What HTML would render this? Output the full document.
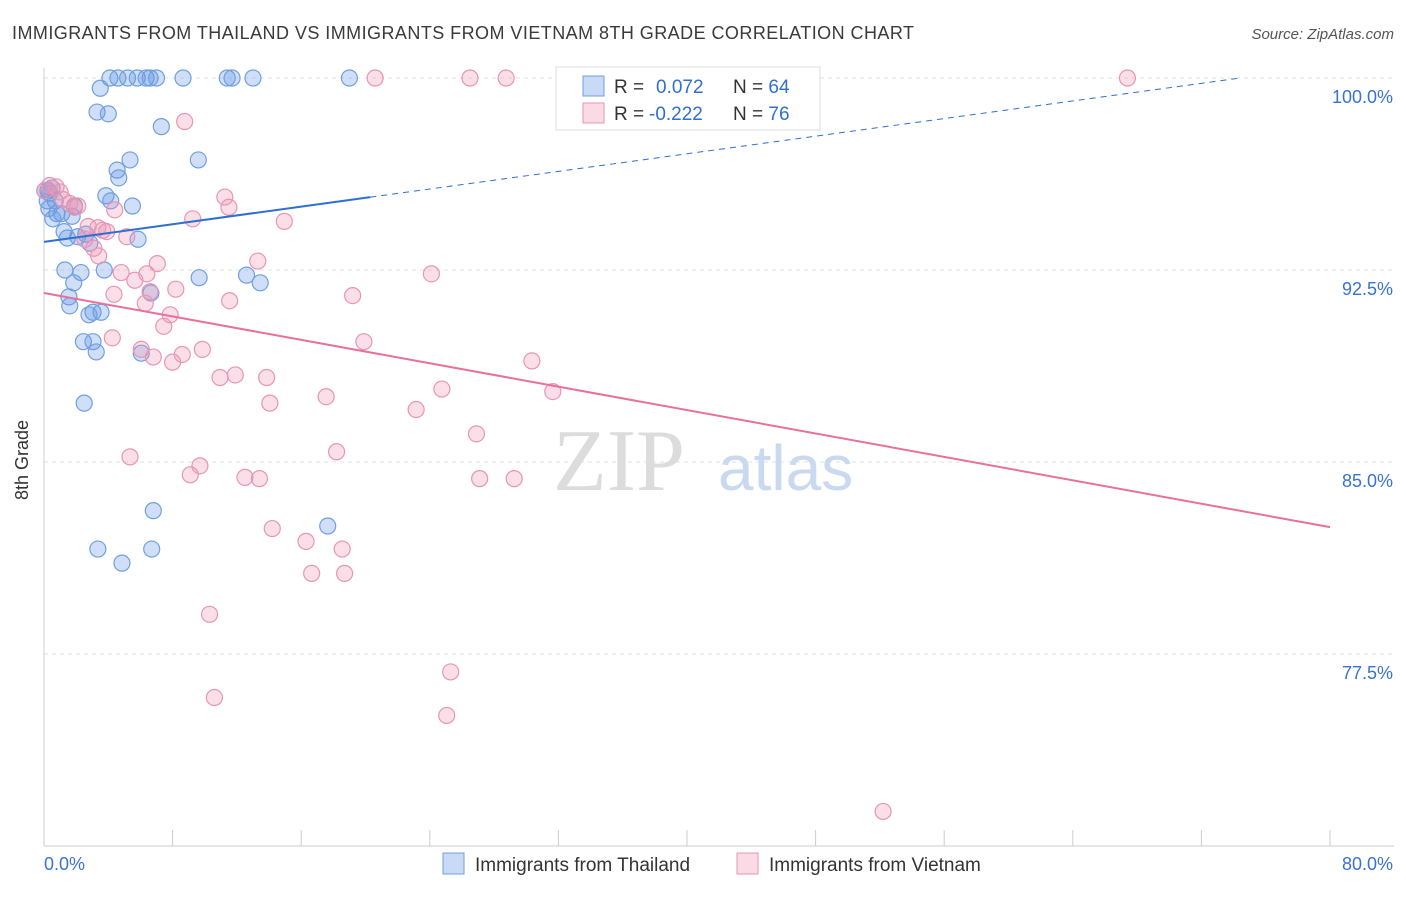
<!DOCTYPE html>
<html><head><meta charset="utf-8"><style>
body{margin:0;background:#fff;font-family:"Liberation Sans",sans-serif;}
</style></head><body>
<svg id="chart" width="1406" height="892" font-family="Liberation Sans, sans-serif">
<text x="12" y="39" font-size="18" fill="#3a3a3a" textLength="902">IMMIGRANTS FROM THAILAND VS IMMIGRANTS FROM VIETNAM 8TH GRADE CORRELATION CHART</text>
<text x="1394" y="39" font-size="15" fill="#555" text-anchor="end" font-style="italic">Source: ZipAtlas.com</text>
<g id="grid"></g>
<g><text x="553" y="490" font-size="88" fill="#dcdcdc" style="font-family:'Liberation Serif',serif">ZIP</text><text x="718" y="490" font-size="64" fill="#c9daf0">atlas</text></g>
<g id="axes"></g>
<g id="pts"></g>
<g id="trend"></g>
<text x="28" y="460" font-size="18" fill="#333" transform="rotate(-90 28 460)" text-anchor="middle">8th Grade</text>
<g>
<rect x="556" y="67" width="264" height="63" fill="#fff" stroke="#ddd"/>
<rect x="583" y="76" width="21" height="20" fill="rgba(100,150,230,0.35)" stroke="#6fa0e0"/>
<rect x="583" y="103" width="21" height="20" fill="rgba(240,150,180,0.35)" stroke="#e895b5"/>
<text x="614" y="93" font-size="19" fill="#333">R = <tspan x="656" fill="#2f6fd0">0.072</tspan><tspan x="733">N = </tspan><tspan fill="#2f6fd0">64</tspan></text>
<text x="614" y="120" font-size="19" fill="#333">R = <tspan x="649" fill="#2f6fd0">-0.222</tspan><tspan x="733">N = </tspan><tspan fill="#2f6fd0">76</tspan></text>
</g>
<g>
<rect x="443" y="853" width="21" height="21" fill="rgba(100,150,230,0.35)" stroke="#6fa0e0"/>
<text x="475" y="871" font-size="19" fill="#333">Immigrants from Thailand</text>
<rect x="737" y="853" width="21" height="21" fill="rgba(240,150,180,0.35)" stroke="#e895b5"/>
<text x="769" y="871" font-size="19" fill="#333">Immigrants from Vietnam</text>
</g>
</svg>
<script>
const thX=[4.1,4.6,5.2,5.8,6.35,6.6,7.0,8.65,11.4,11.7,13.0,19.0,3.5,3.3,4.0,7.3,5.35,9.6,4.55,4.65,0.25,0.5,3.85,4.15,0.7,1.9,5.5,0.8,1.1,1.75,0.55,1.25,2.6,2.1,1.45,5.85,2.85,1.3,3.75,2.3,9.65,12.6,13.45,1.85,6.65,1.55,1.6,3.05,3.55,2.8,2.45,3.05,3.25,6.05,2.5,6.8,17.65,3.35,6.7,4.85,0.05,0.35,0.2,0.3];
const thY=[100,100,100,100,100,100,100,100,100,100,100,100,99.6,98.67,98.6,98.1,96.8,96.8,96.4,96.1,95.6,95.7,95.4,95.2,95.2,95.0,95.0,94.7,94.7,94.6,94.5,94.0,93.9,93.8,93.75,93.7,93.55,92.5,92.5,92.4,92.2,92.3,92.0,92.0,91.6,91.45,91.1,90.85,90.85,90.75,89.7,89.7,89.3,89.25,87.3,83.1,82.5,81.6,81.6,81.05,95.6,95.5,95.2,94.9];
const vnX=[20.6,26.5,28.75,43.1,67.4,8.75,0.35,0.75,0.05,1.0,11.25,1.6,2.1,11.5,9.25,14.95,2.75,3.65,5.15,3.9,3.1,3.4,13.3,7.05,4.8,6.4,5.65,8.2,4.35,19.2,24.1,6.3,7.85,7.45,4.25,19.9,6.05,6.8,8.6,8.0,9.85,30.35,11.9,10.95,13.85,24.75,31.65,14.05,17.55,23.15,26.9,18.2,5.35,9.7,9.1,12.5,13.4,27.1,29.25,14.2,16.3,18.55,16.65,18.7,10.3,25.3,10.6,25.05,52.2,1.9,1.2,4.4,3.35,11.55,6.6,2.55];
const vnY=[100,100,100,100,100,98.3,95.8,95.75,95.6,95.55,95.35,95.1,95.0,94.95,94.5,94.4,94.2,94.05,93.8,94.0,93.35,93.05,92.85,92.75,92.4,92.35,92.1,91.75,91.55,91.5,92.35,91.2,90.75,90.3,89.85,89.7,89.4,89.1,89.2,88.9,89.4,88.95,88.4,88.3,88.3,87.85,87.75,87.3,87.55,87.05,86.1,85.4,85.2,84.85,84.5,84.4,84.35,84.35,84.35,82.4,81.9,81.6,80.65,80.65,79.05,76.8,75.8,75.1,71.35,94.95,95.25,94.85,94.15,91.3,91.65,93.7];
const yTicks=[77.5,85.0,92.5,100.0];
const xTicks=[0,8,16,24,32,40,48,56,64,72,80];
const thTrend=[93.6,0.086,20.3,74.4]; // intercept, slope, solid end, dashed end
const vnTrend=[91.6,-0.1143,80];
const NS='http://www.w3.org/2000/svg';
const sx=v=>44+v/80*1286, sy=v=>846-(v-70)/30*768;
function mk(p,t,a){const e=document.createElementNS(NS,t);for(const k in a)e.setAttribute(k,a[k]);document.getElementById(p).appendChild(e);return e;}
yTicks.forEach(t=>{
 const l=mk('grid','line',{x1:44,x2:1394,y1:sy(t),y2:sy(t),stroke:'#e2e2e2','stroke-dasharray':'4,4'});
 
 
 const tx=mk('axes','text',{x:1393,y:sy(t)+25,'font-size':18,fill:'#3a72d0','text-anchor':'end'});tx.textContent=t.toFixed(1)+'%';
 
 
});
const ax=mk('axes','line',{x1:44,x2:1394,y1:846,y2:846,stroke:'#ccc'});


const ay=mk('axes','line',{x1:44,x2:44,y1:68,y2:846,stroke:'#ccc'});


xTicks.forEach(t=>{
 const l=mk('axes','line',{x1:sx(t),x2:sx(t),y1:830,y2:846,stroke:'#ccc'});
 
 
});
const xl0=mk('axes','text',{x:44,y:870,'font-size':18,fill:'#3a72d0'});xl0.textContent='0.0%';


const xl1=mk('axes','text',{x:1393,y:870,'font-size':18,fill:'#3a72d0','text-anchor':'end'});xl1.textContent='80.0%';


thX.forEach((x,i)=>{
 const c=mk('pts','circle',{cx:sx(x),cy:sy(thY[i]),r:8,fill:'rgba(100,150,230,0.3)',stroke:'#6fa0e0','stroke-width':1.2});
 
 
});
vnX.forEach((x,i)=>{
 const c=mk('pts','circle',{cx:sx(x),cy:sy(vnY[i]),r:8,fill:'rgba(240,150,180,0.3)',stroke:'#e895b5','stroke-width':1.2});
 
 
});
const tf=x=>thTrend[0]+thTrend[1]*x, vf=x=>vnTrend[0]+vnTrend[1]*x;
const t1=mk('trend','line',{x1:sx(0),y1:sy(tf(0)),x2:sx(thTrend[2]),y2:sy(tf(thTrend[2])),stroke:'#2f6fd0','stroke-width':2});


const t2=mk('trend','line',{x1:sx(thTrend[2]),y1:sy(tf(thTrend[2])),x2:sx(thTrend[3]),y2:sy(tf(thTrend[3])),stroke:'#2f6fd0','stroke-width':1,'stroke-dasharray':'6,5'});


const t3=mk('trend','line',{x1:sx(0),y1:sy(vf(0)),x2:sx(vnTrend[2]),y2:sy(vf(vnTrend[2])),stroke:'#e8709a','stroke-width':2});


</script>
</body></html>
